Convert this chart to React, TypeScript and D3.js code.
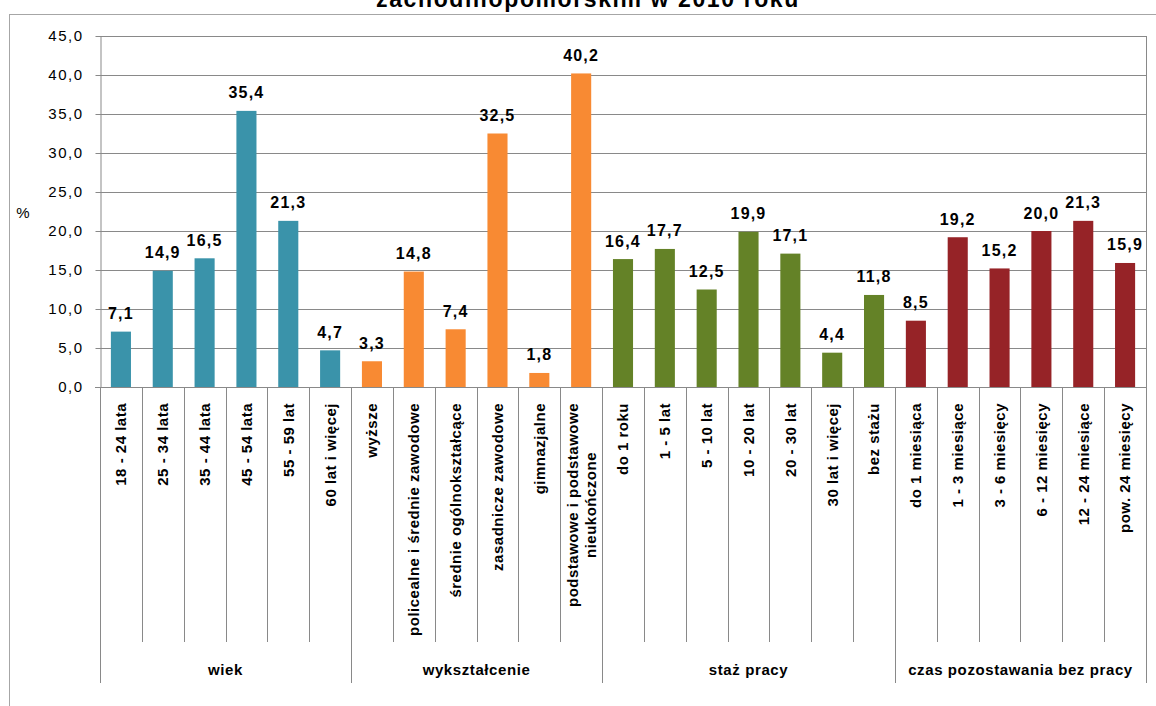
import React, { useRef, useEffect } from 'react';
import * as d3 from "d3";

const groups = ["wiek", "wykształcenie", "staż pracy", "czas pozostawania bez pracy"];

const wiekLabels = ["18 - 24 lata", "25 - 34 lata", "35 - 44 lata", "45 - 54 lata", "55 - 59 lat", "60 lat i więcej"];
const wiekValues = [7.1, 14.9, 16.5, 35.4, 21.3, 4.7];

const wyksztLabels = ["wyższe", "policealne i średnie zawodowe", "średnie ogólnokształcące", "zasadnicze zawodowe", "gimnazjalne", "podstawowe i podstawowe|nieukończone"];
const wyksztValues = [3.3, 14.8, 7.4, 32.5, 1.8, 40.2];

const stazLabels = ["do 1 roku", "1 - 5 lat", "5 - 10 lat", "10 - 20 lat", "20 - 30 lat", "30 lat i więcej", "bez stażu"];
const stazValues = [16.4, 17.7, 12.5, 19.9, 17.1, 4.4, 11.8];

const czasLabels = ["do 1 miesiąca", "1 - 3 miesiące", "3 - 6 miesięcy", "6 - 12 miesięcy", "12 - 24 miesiące", "pow. 24 miesięcy"];
const czasValues = [8.5, 19.2, 15.2, 20.0, 21.3, 15.9];

const groupColors = ["#3A93AA", "#F88A33", "#648227", "#962327"];
const yTicks = [0, 5, 10, 15, 20, 25, 30, 35, 40, 45];

const FONT = "'Liberation Sans', Arial, sans-serif";
const GRAY = "#898989";

export default function App() {
    const svgRef = useRef<SVGSVGElement>(null);

    useEffect(() => {
        const svg = d3.select(svgRef.current);
        const g = svg.append("g");

        const labelSets = [wiekLabels, wyksztLabels, stazLabels, czasLabels];
        const valueSets = [wiekValues, wyksztValues, stazValues, czasValues];
        const rows: { label: string, value: number, group: number }[] = [];
        labelSets.forEach((ls, gi) => ls.forEach((l, i) => rows.push({ label: l, value: valueSets[gi][i], group: gi })));

        const left = 100, right = 1146, top = 36, bottom = 387;

        const x = d3.scaleBand<number>()
            .domain(rows.map((_, i) => i))
            .range([left, right])
            .paddingInner(0.52)
            .paddingOuter(0.26);
        const step = x.step();
        const y = d3.scaleLinear().domain([0, 45]).range([bottom, top]);
        const fmt = (v: number) => v.toFixed(1).replace(".", ",");

        // outer frame
        g.append("rect")
            .attr("x", 9.5).attr("y", 14.5)
            .attr("width", 1170).attr("height", 720)
            .attr("fill", "none").attr("stroke", "#a6a6a6");

        // title
        g.append("text")
            .attr("x", 588).attr("y", 7)
            .attr("text-anchor", "middle")
            .attr("font-family", FONT).attr("font-weight", "bold")
            .attr("font-size", 23).attr("letter-spacing", 1.6)
            .text("zachodniopomorskim w 2010 roku");

        // grid
        g.selectAll(".grid").data(yTicks.filter(t => t > 0)).join("line")
            .attr("x1", left).attr("x2", right)
            .attr("y1", d => Math.round(y(d)) + 0.5).attr("y2", d => Math.round(y(d)) + 0.5)
            .attr("stroke", GRAY);
        g.append("line")
            .attr("x1", right + 0.5).attr("x2", right + 0.5)
            .attr("y1", top).attr("y2", bottom)
            .attr("stroke", GRAY);

        // y axis
        const yAxis = g.append("g").attr("transform", `translate(${left + 0.5},0)`)
            .call(d3.axisLeft(y).tickValues(yTicks).tickSize(5).tickSizeOuter(0).tickFormat(d => fmt(+d)));
        yAxis.select(".domain").attr("stroke", GRAY);
        yAxis.selectAll(".tick line").attr("stroke", GRAY);
        yAxis.selectAll(".tick text")
            .attr("x", -17)
            .attr("font-family", FONT).attr("font-size", 15)
            .attr("letter-spacing", 1.5).attr("fill", "#000");

        g.append("text")
            .attr("x", 23).attr("y", 218)
            .attr("text-anchor", "middle")
            .attr("font-family", FONT).attr("font-size", 15)
            .text("%");

        // bars
        g.selectAll(".bar").data(rows).join("rect")
            .attr("x", (_, i) => x(i)!)
            .attr("width", x.bandwidth())
            .attr("y", d => y(d.value))
            .attr("height", d => y(0) - y(d.value))
            .attr("fill", d => groupColors[d.group]);

        // value labels
        g.selectAll(".val").data(rows).join("text")
            .attr("x", (_, i) => x(i)! + x.bandwidth() / 2)
            .attr("y", d => y(d.value) - 12.5)
            .attr("text-anchor", "middle")
            .attr("font-family", FONT).attr("font-weight", "bold")
            .attr("font-size", 16).attr("letter-spacing", 1.2)
            .text(d => fmt(d.value));

        // x axis line
        g.append("line")
            .attr("x1", left - 5).attr("x2", right + 1)
            .attr("y1", bottom + 0.5).attr("y2", bottom + 0.5)
            .attr("stroke", GRAY);

        // category separators and group separators
        let idx = 0;
        const groupBounds: number[] = [0];
        labelSets.forEach(ls => { idx += ls.length; groupBounds.push(idx); });
        const sepIdx = d3.range(0, rows.length + 1);
        g.selectAll(".sep").data(sepIdx).join("line")
            .attr("x1", i => Math.round(left + i * step) + 0.5)
            .attr("x2", i => Math.round(left + i * step) + 0.5)
            .attr("y1", bottom)
            .attr("y2", i => groupBounds.includes(i) ? 683 : 642)
            .attr("stroke", GRAY);

        // category labels
        const cat = g.selectAll(".cat").data(rows).join("text")
            .attr("font-family", FONT).attr("font-weight", "bold")
            .attr("font-size", 15).attr("letter-spacing", 0.5);
        cat.each(function (d, i) {
            const t = d3.select(this);
            const cx = x(i)! + x.bandwidth() / 2;
            const lines = d.label.split("|");
            if (lines.length === 1) {
                t.attr("transform", `translate(${cx},403) rotate(-90)`)
                    .attr("text-anchor", "end").attr("dy", "0.36em")
                    .text(d.label);
            } else {
                const tsp = lines.map((l, li) => t.append("tspan")
                    .attr("x", 0)
                    .attr("y", (li - (lines.length - 1) / 2) * 18)
                    .attr("dy", "0.36em")
                    .text(l));
                const maxLen = d3.max(tsp, s => (s.node() as SVGTSpanElement).getComputedTextLength()) || 0;
                t.attr("text-anchor", "middle")
                    .attr("transform", `translate(${cx},${403 + maxLen / 2}) rotate(-90)`);
            }
        });

        // group labels
        g.selectAll(".grp").data(groups).join("text")
            .attr("x", (_, gi) => left + (groupBounds[gi] + groupBounds[gi + 1]) / 2 * step)
            .attr("y", 675)
            .attr("text-anchor", "middle")
            .attr("font-family", FONT).attr("font-weight", "bold")
            .attr("font-size", 15).attr("letter-spacing", 0.6)
            .text(d => d);

        return () => { g.remove(); };
    });

    return (
        <div style={{ position: "absolute", left: 0, top: 0 }}>
            <svg width={1156} height={706} ref={svgRef} style={{ display: "block", background: "#fff" }}>
            </svg>
        </div>
    );
}
